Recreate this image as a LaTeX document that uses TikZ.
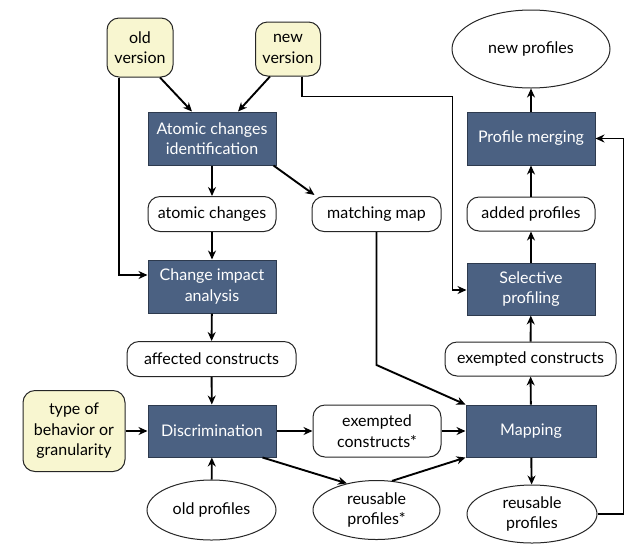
\documentclass[tikz,border=0pt]{standalone}
\usepackage{fontspec}
\setmainfont{Lato}
\usetikzlibrary{calc,arrows.meta,shapes.geometric}
\definecolor{bluefill}{RGB}{75,97,130}
\definecolor{blueline}{RGB}{45,58,78}
\definecolor{yelfill}{RGB}{248,246,208}
\begin{document}
\begin{tikzpicture}[x=1pt,y=-1pt,
  every node/.style={font=\fontsize{16}{20.5}\selectfont, align=center, inner sep=1pt},
  bluebox/.style={draw=blueline, line width=1pt, fill=bluefill, text=white, minimum width=128pt, minimum height=53pt},
  whitebox/.style={draw=black!85, line width=1pt, fill=white, rounded corners=12pt, minimum height=35pt},
  yelbox/.style={draw=black!85, line width=1pt, fill=yelfill, rounded corners=12pt},
  oval/.style={draw=black!85, line width=1pt, fill=white, ellipse, inner sep=0pt},
  arr/.style={line width=1.9pt, -{Stealth[length=9pt,width=8pt]}}]
\useasboundingbox (0,0) rectangle (637,550);
% nodes
\node[yelbox, minimum width=66pt, minimum height=59pt] (oldv) at (140,47.5) {old\\version};
\node[yelbox, minimum width=65pt, minimum height=54pt] (newv) at (288,49) {new\\version};
\node[yelbox, minimum width=102pt, minimum height=81pt] (type) at (74,431) {type of\\behavior or\\granularity};
\node[bluebox] (atomic) at (212,138.5) {Atomic changes\\identification};
\node[whitebox, minimum width=128pt] (achanges) at (212,214) {atomic changes};
\node[whitebox, minimum width=129pt] (matchmap) at (376.5,214) {matching map};
\node[bluebox] (change) at (212,286.5) {Change impact\\analysis};
\node[whitebox, minimum width=169pt] (affected) at (211.5,359) {affected constructs};
\node[bluebox, minimum height=52pt] (discr) at (212,431) {Discrimination};
\node[whitebox, minimum width=128pt, minimum height=52pt] (excs) at (377,431) {exempted\\constructs*};
\node[bluebox, minimum width=130pt, minimum height=52pt] (mapping) at (531,431) {Mapping};
\node[oval, minimum width=129pt, minimum height=60pt] (oldprof) at (211.5,510) {old profiles};
\node[oval, minimum width=127pt, minimum height=59pt] (reuss) at (376.5,510) {reusable\\profiles*};
\node[oval, minimum width=130pt, minimum height=58pt] (reus) at (532,514) {reusable\\profiles};
\node[whitebox, minimum width=171pt, minimum height=34pt] (exc) at (530.5,359) {exempted constructs};
\node[bluebox, minimum height=52pt] (selective) at (531,289) {Selective\\profiling};
\node[whitebox, minimum width=128pt, minimum height=34pt] (added) at (531,214) {added profiles};
\node[bluebox] (merging) at (531,138.5) {Profile merging};
\node[oval, minimum width=158pt, minimum height=78pt] (newprof) at (531,49) {new profiles};
% connectors
\draw[arr] ($(oldv.south)+(20,0)$) -- ($(atomic.north)+(-20,0)$);
\draw[arr] ($(newv.south)+(-18,0)$) -- ($(atomic.north)+(26,0)$);
\draw[arr] ($(oldv.south)+(-21,0)$) |- ($(change.west)+(0,-11.5)$);
\draw[arr] ($(newv.south)+(14,0)$) -- ++(0,20) -| ($(selective.west)+(-14,1)$) -- ($(selective.west)+(0,1)$);
\draw[arr] (atomic) -- (achanges);
\draw[arr] ($(atomic.south east)+(-3,0)$) -- ($(matchmap.north west)+(3,-1)$);
\draw[arr] (achanges) -- (change);
\draw[arr] (change) -- (affected);
\draw[arr] (affected) -- (discr);
\draw[arr] (matchmap.south) -- ++(0,133) -- (mapping.north west);
\draw[arr] (type) -- (discr);
\draw[arr] (oldprof) -- (discr);
\draw[arr] (discr) -- (excs);
\draw[arr] ($(discr.south east)+(-14,0)$) -- (reuss.138);
\draw[arr] (excs) -- (mapping);
\draw[arr] (reuss.62) -- (mapping.south west);
\draw[arr] (mapping) -- (reus);
\draw[arr] (mapping) -- (exc);
\draw[arr] (exc) -- (selective);
\draw[arr] (selective) -- (added);
\draw[arr] (added) -- (merging);
\draw[arr] (merging) -- (newprof);
\draw[arr] (reus.east) -| ($(merging.east)+(28,0)$) -- (merging.east);
\end{tikzpicture}
\end{document}
